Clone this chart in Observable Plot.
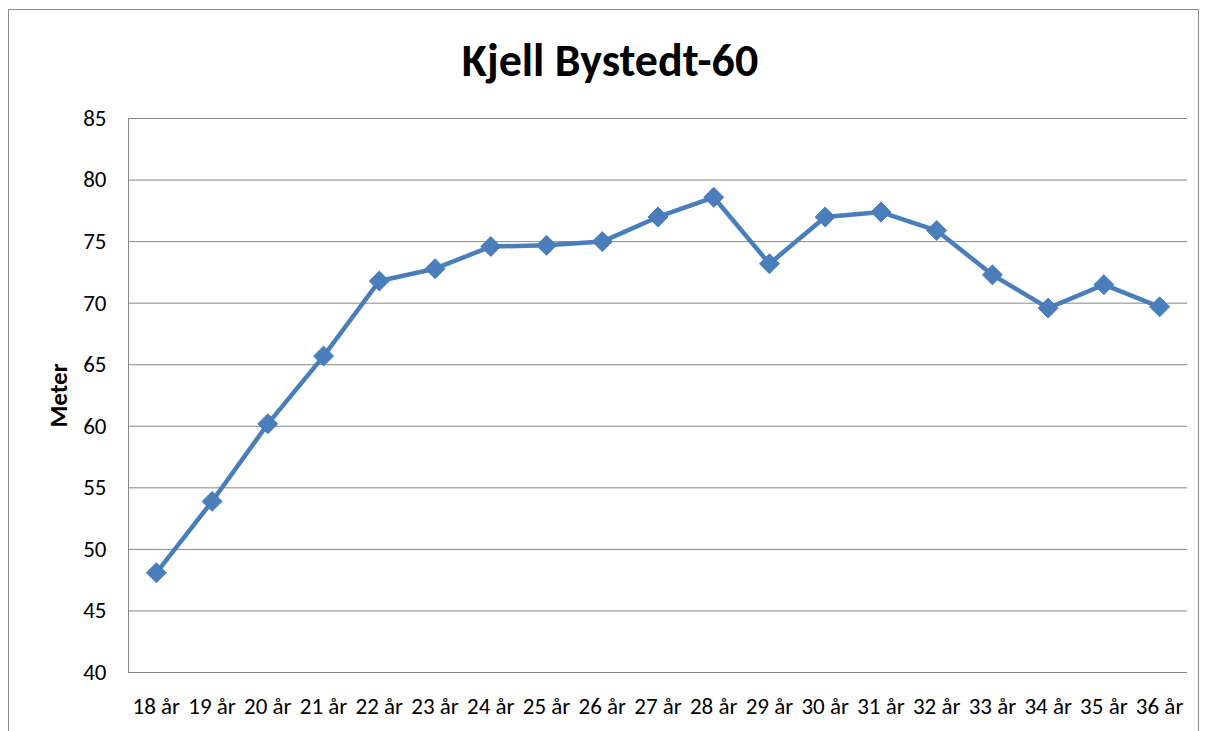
<!DOCTYPE html>
<html>
<head>
<meta charset="utf-8">
<script src="https://cdn.jsdelivr.net/npm/d3@7"></script>
<script src="https://cdn.jsdelivr.net/npm/@observablehq/plot@0.6"></script>
<style>
  html, body { margin: 0; padding: 0; background: #fff; }
  body { width: 1206px; height: 731px; position: relative; overflow: hidden;
         font-family: Carlito, "Liberation Sans Narrow", "Liberation Sans", sans-serif; }
  #frame { position: absolute; left: 8px; top: 9px; width: 1191px; height: 740px;
           border: 1px solid #8c8c8c; box-sizing: border-box; }
  #title { position: absolute; left: 0; top: 32px; width: 1220px; text-align: center;
           font-size: 46px; font-weight: bold; color: #000; line-height: 56px; }
  #chart { position: absolute; left: 0; top: 100px; }
</style>
</head>
<body>
<div id="frame"></div>
<div id="title">Kjell Bystedt-60</div>
<div id="chart"></div>
<script>
const ages = ["18 år","19 år","20 år","21 år","22 år","23 år","24 år","25 år","26 år","27 år",
              "28 år","29 år","30 år","31 år","32 år","33 år","34 år","35 år","36 år"];
const meters = [48.1, 53.9, 60.2, 65.7, 71.8, 72.8, 74.6, 74.7, 75.0, 77.0,
                78.6, 73.2, 77.0, 77.4, 75.9, 72.3, 69.6, 71.5, 69.7];
const yTicks = [40, 45, 50, 55, 60, 65, 70, 75, 80, 85];
const yLabel = "Meter";

const data = ages.map((a, i) => ({age: a, m: meters[i]}));
const blue = "#4a7ebb";
const gray = "#868686";

const chart = Plot.plot({
  width: 1206,
  height: 631,
  marginLeft: 128,
  marginRight: 19,
  marginTop: 18,
  marginBottom: 59,
  style: {fontFamily: 'Carlito, "Liberation Sans Narrow", "Liberation Sans", sans-serif', fontSize: "23px", color: "#000", background: "transparent"},
  x: {type: "band", domain: ages, padding: 0, round: false, label: null},
  y: {domain: [40, 85], label: null},
  marks: [
    Plot.gridY(yTicks, {stroke: gray, strokeOpacity: 1, strokeWidth: 1}),
    Plot.frame({anchor: "left", stroke: gray, strokeWidth: 1}),
    Plot.ruleY([40], {stroke: gray, strokeWidth: 1}),
    Plot.axisY(yTicks, {tickSize: 0, tickPadding: 22, fontSize: 23, label: null}),
    Plot.axisX({tickSize: 0, tickPadding: 25, fontSize: 23, label: null}),
    Plot.line(data, {x: "age", y: "m", stroke: blue, strokeWidth: 4.5, strokeLinejoin: "round"}),
    Plot.dot(data, {x: "age", y: "m", symbol: "diamond2", r: 9, fill: blue, stroke: blue, strokeWidth: 1}),
    Plot.text([yLabel], {frameAnchor: "left", dx: -70, rotate: -90, fontWeight: "bold", fontSize: 25, textAnchor: "middle"})
  ]
});
document.getElementById("chart").appendChild(chart);
</script>
</body>
</html>
